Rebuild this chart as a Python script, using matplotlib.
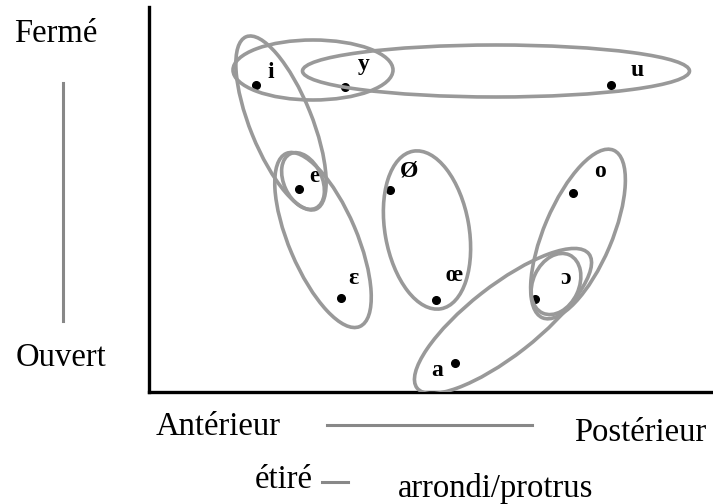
import matplotlib
matplotlib.use("Agg")
import matplotlib.pyplot as plt
from matplotlib.patches import Ellipse

W, H = 713, 504

# vowels: label, dot x, dot y (pixel-like coordinates, y downward), label x, label y
vowels = ["i", "y", "u", "e", "ɛ", "Ø", "œ", "a", "ɔ", "o"]
dot_x = [256, 345, 611, 299, 341, 390, 436, 455, 535, 573]
dot_y = [85, 87, 85, 189, 298, 190, 300, 363, 299, 193]
lab_x = [271, 364, 637, 314, 353, 409, 454, 437, 566, 600]
lab_y = [72, 64, 70, 176, 278, 171, 275, 370, 278, 171]

# groupings (ellipses): center x, center y, major, minor, angle
ell_cx = [313, 496, 281, 303, 323, 427, 503, 578, 556]
ell_cy = [70, 71, 123, 181, 240, 230, 321, 234, 284]
ell_w = [160, 387, 186, 60, 188, 160, 218, 182, 64]
ell_h = [60, 52, 62, 38, 68, 84, 70, 68, 46]
ell_a = [0, 0, 68, 65, 67, 80, -38, -67, -65]

fig = plt.figure(figsize=(W / 100, H / 100), dpi=100)
ax = fig.add_axes([149 / W, (H - 392) / H, (W - 149) / W, (392 - 7) / H])
ax.set_xlim(149, W)
ax.set_ylim(392, 7)
for s in ["top", "right"]:
    ax.spines[s].set_visible(False)
for s in ["left", "bottom"]:
    ax.spines[s].set_linewidth(2.4)
    ax.spines[s].set_color("black")
ax.set_xticks([])
ax.set_yticks([])

ax.plot(dot_x, dot_y, "o", color="black", markersize=5.5, zorder=2)
for lab, lx, ly in zip(vowels, lab_x, lab_y):
    ax.text(lx, ly, lab, fontsize=17, fontweight="bold", family="Liberation Serif",
            ha="center", va="center", zorder=2)

for cx, cy, w, h, a in zip(ell_cx, ell_cy, ell_w, ell_h, ell_a):
    ax.add_patch(Ellipse((cx, cy), w, h, angle=a, fill=False,
                         edgecolor="#999999", linewidth=2.6, zorder=3))

# outside annotations
bg = fig.add_axes([0, 0, 1, 1], zorder=-1)
bg.set_xlim(0, W)
bg.set_ylim(H, 0)
bg.axis("off")
fs = 23.5
serif = "Liberation Serif"
bg.text(56, 42, "Fermé", fontsize=fs, family=serif, ha="center", va="baseline")
bg.text(61, 366, "Ouvert", fontsize=fs, family=serif, ha="center", va="baseline")
bg.plot([63, 63], [83, 321], color="#888888", linewidth=2.2)
bg.text(218, 435, "Antérieur", fontsize=fs, family=serif, ha="center", va="baseline")
bg.text(640, 441, "Postérieur", fontsize=fs, family=serif, ha="center", va="baseline")
bg.plot([327, 532], [425, 425], color="#888888", linewidth=2.2)
bg.text(284, 488, "étiré", fontsize=fs, family=serif, ha="center", va="baseline")
bg.plot([322, 348], [482, 482], color="#888888", linewidth=2.2)
bg.text(496, 497, "arrondi/protrus", fontsize=fs, family=serif, ha="center", va="baseline")

fig.savefig("out.png", dpi=100)
